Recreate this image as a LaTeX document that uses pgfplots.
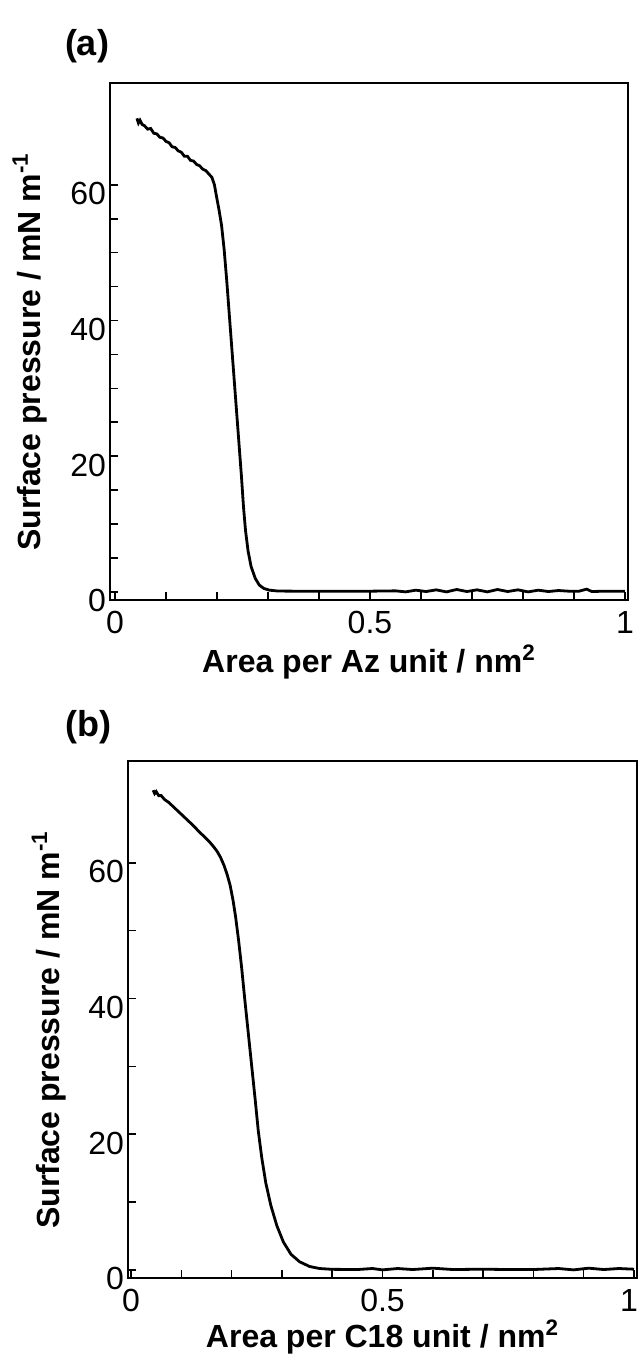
\documentclass[border=0pt]{standalone}
\usepackage{fontspec}
\setmainfont{Liberation Sans}
\usepackage{pgfplots}
\pgfplotsset{compat=1.18}

% 1 px of the reference = 0.5pt
\newcommand{\labfont}{\bfseries\fontsize{16}{19}\selectfont}
\pgfplotsset{
  isotherm/.style={
    scale only axis,
    anchor=south west,
    axis line style={line width=1pt},
    every tick/.style={black, line width=0.8pt},
    major tick length=4pt,
    minor tick length=4pt,
    tick align=inside,
    tick pos=left,
    xtick={0,0.5,1},
    minor x tick num=4,
    ytick={0,20,40,60},
    ymin=-1.2, ymax=75,
    /pgf/number format/assume math mode=true,
    tick label style={font=\fontsize{16}{19}\selectfont},
    yticklabel style={yshift=-4.5pt, xshift=1.5pt},
    xticklabel style={yshift=-2pt},
    ylabel={Surface pressure / mN m\textsuperscript{-1}},
    ylabel style={at={(axis description cs:-0.155,0.48)}, rotate=0, anchor=center, font=\labfont},
  },
}

\pgfplotstableread{
x y
0.043 69.8
0.046 69.1
0.049 69.5
0.053 68.9
0.058 68.7
0.064 68.2
0.070 68.3
0.076 67.6
0.082 67.5
0.088 67.0
0.094 66.9
0.100 66.4
0.106 66.2
0.112 65.6
0.118 65.5
0.124 65.0
0.130 64.8
0.136 64.2
0.142 64.2
0.148 63.6
0.154 63.5
0.160 63.0
0.166 62.8
0.172 62.3
0.178 62.1
0.184 61.6
0.190 61.1
0.195 60.0
0.199 58.3
0.204 56.3
0.209 54.0
0.214 50.5
0.219 46.0
0.224 41.0
0.229 36.0
0.234 31.0
0.239 26.0
0.244 21.0
0.248 17.0
0.252 12.5
0.256 9.0
0.261 6.0
0.267 3.7
0.275 2.0
0.283 1.0
0.292 0.5
0.303 0.25
0.320 0.12
0.360 0.10
0.420 0.10
0.500 0.10
0.550 0.15
0.570 0.00
0.590 0.25
0.610 0.05
0.630 0.30
0.650 0.00
0.670 0.35
0.690 0.05
0.710 0.30
0.730 0.00
0.750 0.35
0.770 0.05
0.790 0.30
0.810 0.00
0.830 0.25
0.850 0.05
0.870 0.20
0.890 0.10
0.910 0.10
0.925 0.40
0.935 0.05
0.960 0.10
1.000 0.10
}\dataA

\pgfplotstableread{
x y
0.044 70.7
0.047 70.2
0.050 70.5
0.055 69.9
0.060 69.9
0.067 69.3
0.075 68.9
0.085 68.2
0.095 67.5
0.105 66.8
0.115 66.1
0.125 65.4
0.135 64.6
0.145 63.9
0.157 63.0
0.165 62.3
0.171 61.7
0.178 60.8
0.185 59.6
0.191 58.3
0.197 56.7
0.203 54.4
0.208 52.0
0.214 48.5
0.220 44.5
0.226 40.0
0.233 35.0
0.240 30.0
0.247 25.0
0.253 20.5
0.260 16.5
0.268 12.8
0.278 9.5
0.290 6.5
0.303 4.1
0.318 2.3
0.335 1.2
0.355 0.5
0.375 0.2
0.400 0.08
0.450 0.05
0.480 0.20
0.500 0.00
0.530 0.20
0.560 0.05
0.600 0.25
0.640 0.05
0.700 0.10
0.750 0.05
0.800 0.05
0.850 0.20
0.880 0.00
0.910 0.25
0.940 0.05
0.970 0.20
1.000 0.10
}\dataB

\begin{document}
\begin{tikzpicture}
\useasboundingbox (0,0) rectangle (319pt,-678pt);

% panel (a)
\begin{axis}[isotherm,
  at={(55pt,-300pt)},
  width=259pt, height=258.5pt,
  xmin=-0.0098, xmax=1.006,
  minor y tick num=3,
  xlabel={Area per Az unit / nm\textsuperscript{2}},
  xlabel style={at={(axis description cs:0.5,-0.12)}, anchor=center, font=\labfont},
]
\addplot[black, line width=1.4pt] table {\dataA};
\end{axis}

% panel (b)
\begin{axis}[isotherm,
  at={(64pt,-639pt)},
  width=254.5pt, height=258.5pt,
  xmin=-0.006, xmax=1.006,
  minor y tick num=1,
  xticklabels={0,0.5,\makebox[0pt]{\hspace*{-5pt}1}},
  xlabel={Area per C18 unit / nm\textsuperscript{2}},
  xlabel style={at={(axis description cs:0.5,-0.114)}, anchor=center, font=\labfont},
]
\addplot[black, line width=1.4pt] table {\dataB};
\end{axis}

\node[font=\bfseries\fontsize{18}{21}\selectfont] at (43.5pt,-23pt) {(a)};
\node[font=\bfseries\fontsize{18}{21}\selectfont] at (44pt,-363.5pt) {(b)};
\end{tikzpicture}
\end{document}
